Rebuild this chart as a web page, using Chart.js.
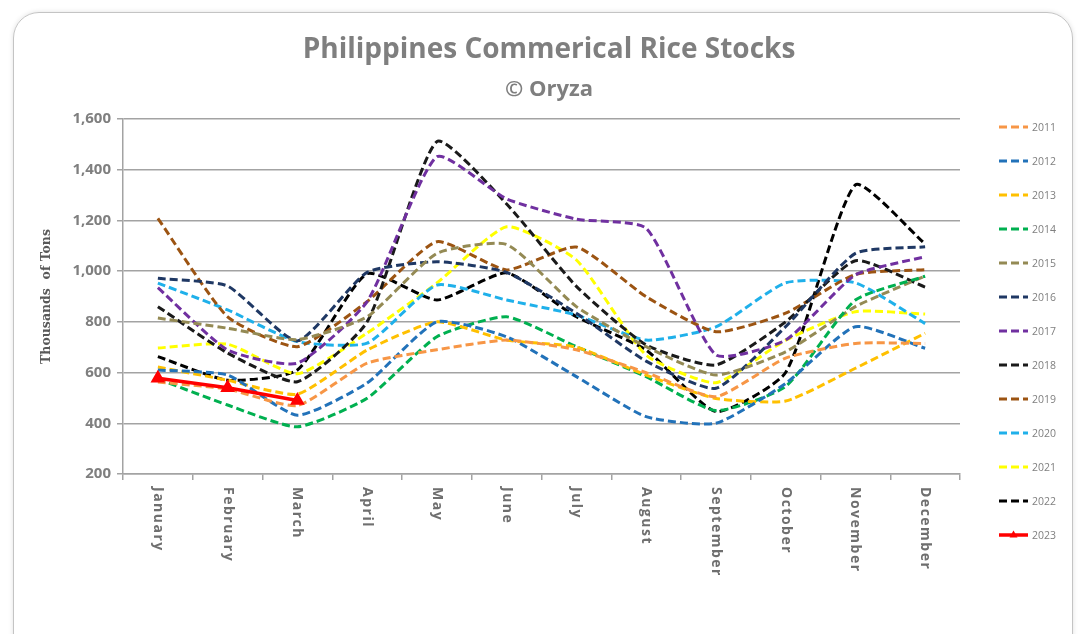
<!DOCTYPE html>
<html>
<head>
<meta charset="utf-8">
<title>Philippines Commerical Rice Stocks</title>
<script src="https://cdn.jsdelivr.net/npm/chart.js@4.4.1/dist/chart.umd.min.js"></script>
<style>
  html, body { margin: 0; padding: 0; background: #fff; overflow: hidden; }
  #wrap { position: relative; width: 1078px; height: 634px; }
  #card { position: absolute; left: 13px; top: 12px; width: 1058px; height: 660px;
          border: 1.5px solid #c4c4c4; border-radius: 26px; box-shadow: 0 0 5px rgba(0,0,0,0.12); }
  canvas { position: absolute; left: 0; top: 0; }
</style>
</head>
<body>
<div id="wrap">
  <div id="card"></div>
  <canvas id="riceChart" width="1078" height="634"></canvas>
</div>
<script>
// Chart text
var chartTitle = 'Philippines Commerical Rice Stocks';
var chartSubtitle = '\u00A9 Oryza';
var yAxisTitle = 'Thousands  of Tons';

// Categories
var months = ['January', 'February', 'March', 'April', 'May', 'June', 'July',
              'August', 'September', 'October', 'November', 'December'];
var years = ['2011', '2012', '2013', '2014', '2015', '2016', '2017',
             '2018', '2019', '2020', '2021', '2022', '2023'];

// Stocks, thousand tons
var stocks2011 = [563, 535, 470, 637, 690, 728, 690, 600, 505, 657, 715, 715];
var stocks2012 = [610, 590, 432, 559, 800, 741, 584, 426, 400, 557, 781, 696];
var stocks2013 = [622, 570, 515, 689, 800, 728, 700, 590, 498, 488, 617, 755];
var stocks2014 = [575, 472, 386, 499, 741, 820, 702, 584, 450, 545, 886, 980];
var stocks2015 = [815, 775, 730, 820, 1070, 1105, 860, 702, 590, 682, 860, 981];
var stocks2016 = [972, 941, 725, 995, 1037, 995, 834, 645, 538, 781, 1070, 1096];
var stocks2017 = [935, 689, 637, 880, 1451, 1285, 1205, 1169, 670, 728, 985, 1057];
var stocks2018 = [860, 677, 564, 800, 1511, 1265, 940, 709, 630, 800, 1041, 937];
var stocks2019 = [1208, 820, 702, 880, 1116, 1005, 1095, 899, 761, 834, 987, 1006];
var stocks2020 = [953, 847, 722, 716, 945, 886, 827, 728, 780, 954, 954, 793];
var stocks2021 = [697, 712, 595, 756, 953, 1175, 1044, 669, 560, 728, 840, 831];
var stocks2022 = [663, 570, 610, 990, 886, 993, 820, 689, 446, 600, 1340, 1107];
var stocks2023 = [578, 540, 490];

// Y axis
var yMin = 200;
var yMax = 1600;
var yStep = 200;

var seriesValues = [stocks2011, stocks2012, stocks2013, stocks2014, stocks2015, stocks2016,
                    stocks2017, stocks2018, stocks2019, stocks2020, stocks2021, stocks2022, stocks2023];
var lineColors = ['#f79646', '#2272b9', '#ffc000', '#00b050', '#948a54', '#1f3864', '#7030a0',
                  '#1a1a1a', '#9c5412', '#1fb0ea', '#ffff00', '#000000', '#ff0000'];

var axisGrey = '#a3a3a3';
var textGrey = '#7f7f7f';

var datasets = years.map(function(year, i) {
  var current = (year === '2023');
  return {
    label: year,
    data: seriesValues[i],
    borderColor: lineColors[i],
    backgroundColor: lineColors[i],
    borderWidth: current ? 3.5 : 3,
    borderDash: current ? [] : [8, 4],
    borderCapStyle: 'butt',
    pointRadius: current ? 5 : 0,
    pointStyle: 'triangle',
    tension: current ? 0 : 0.18,
    fill: false,
    order: current ? 0 : 1
  };
});

// Title, rotated month labels, y title and legend
var decorations = {
  id: 'decorations',
  afterDraw: function(chart) {
    var ctx = chart.ctx;
    var area = chart.chartArea;
    var xs = chart.scales.x;

    ctx.save();
    ctx.fillStyle = textGrey;
    ctx.textAlign = 'center';
    ctx.textBaseline = 'middle';
    ctx.font = 'bold 28px "Open Sans"';
    ctx.fillText(chartTitle, 549, 50);
    ctx.font = 'bold 22px "Open Sans"';
    ctx.fillText(chartSubtitle, 549, 90);

    // y title
    ctx.save();
    ctx.translate(47, (area.top + area.bottom) / 2);
    ctx.rotate(-Math.PI / 2);
    ctx.fillStyle = '#595959';
    ctx.font = 'bold 12.5px "DejaVu Serif"';
    ctx.fillText(yAxisTitle, 0, 0);
    ctx.restore();

    // month labels, read top to bottom
    ctx.font = 'bold 14px "Open Sans"';
    ctx.letterSpacing = '1.5px';
    ctx.fillStyle = '#6f6f6f';
    ctx.textAlign = 'left';
    months.forEach(function(m, i) {
      ctx.save();
      ctx.translate(xs.getPixelForValue(i), area.bottom + 13);
      ctx.rotate(Math.PI / 2);
      ctx.fillText(m, 0, 0);
      ctx.restore();
    });
    ctx.letterSpacing = '0px';

    // legend
    chart.data.datasets.forEach(function(ds, i) {
      var y = 127 + i * 34;
      ctx.save();
      ctx.strokeStyle = ds.borderColor;
      ctx.lineWidth = ds.borderWidth;
      ctx.setLineDash(ds.borderDash);
      ctx.beginPath();
      ctx.moveTo(999, y);
      ctx.lineTo(1028, y);
      ctx.stroke();
      if (ds.pointRadius > 0) {
        ctx.setLineDash([]);
        ctx.fillStyle = ds.borderColor;
        ctx.beginPath();
        ctx.moveTo(1013.5, y - 4.5);
        ctx.lineTo(1017.5, y + 2.5);
        ctx.lineTo(1009.5, y + 2.5);
        ctx.closePath();
        ctx.fill();
      }
      ctx.restore();
      ctx.fillStyle = textGrey;
      ctx.font = '10.5px "Open Sans"';
      ctx.textAlign = 'left';
      ctx.fillText(ds.label, 1032, y + 1);
    });
    ctx.restore();
  }
};

var ctx = document.getElementById('riceChart').getContext('2d');
var riceChart = new Chart(ctx, {
  type: 'line',
  data: { labels: months, datasets: datasets },
  options: {
    responsive: false,
    animation: false,
    layout: { padding: { left: 20, top: 119, right: 118, bottom: 0 } },
    plugins: {
      legend: { display: false },
      tooltip: { enabled: false }
    },
    scales: {
      x: {
        type: 'category',
        offset: true,
        grid: { offset: true, drawOnChartArea: false, drawTicks: true, tickLength: 6, color: axisGrey, lineWidth: 1.5 },
        border: { color: axisGrey, width: 1.5 },
        ticks: { display: false },
        afterFit: function(scale) { scale.height = 160; }
      },
      y: {
        min: yMin,
        max: yMax,
        grid: { color: axisGrey, lineWidth: 1.5, tickLength: 6 },
        border: { color: axisGrey, width: 1.5 },
        ticks: {
          stepSize: yStep,
          color: textGrey,
          padding: 6,
          font: { family: '"Open Sans"', size: 15, weight: 'bold' },
          callback: function(v) { return v.toLocaleString('en-US'); }
        },
        afterFit: function(scale) { scale.width = 103; }
      }
    }
  },
  plugins: [decorations]
});
</script>
</body>
</html>
